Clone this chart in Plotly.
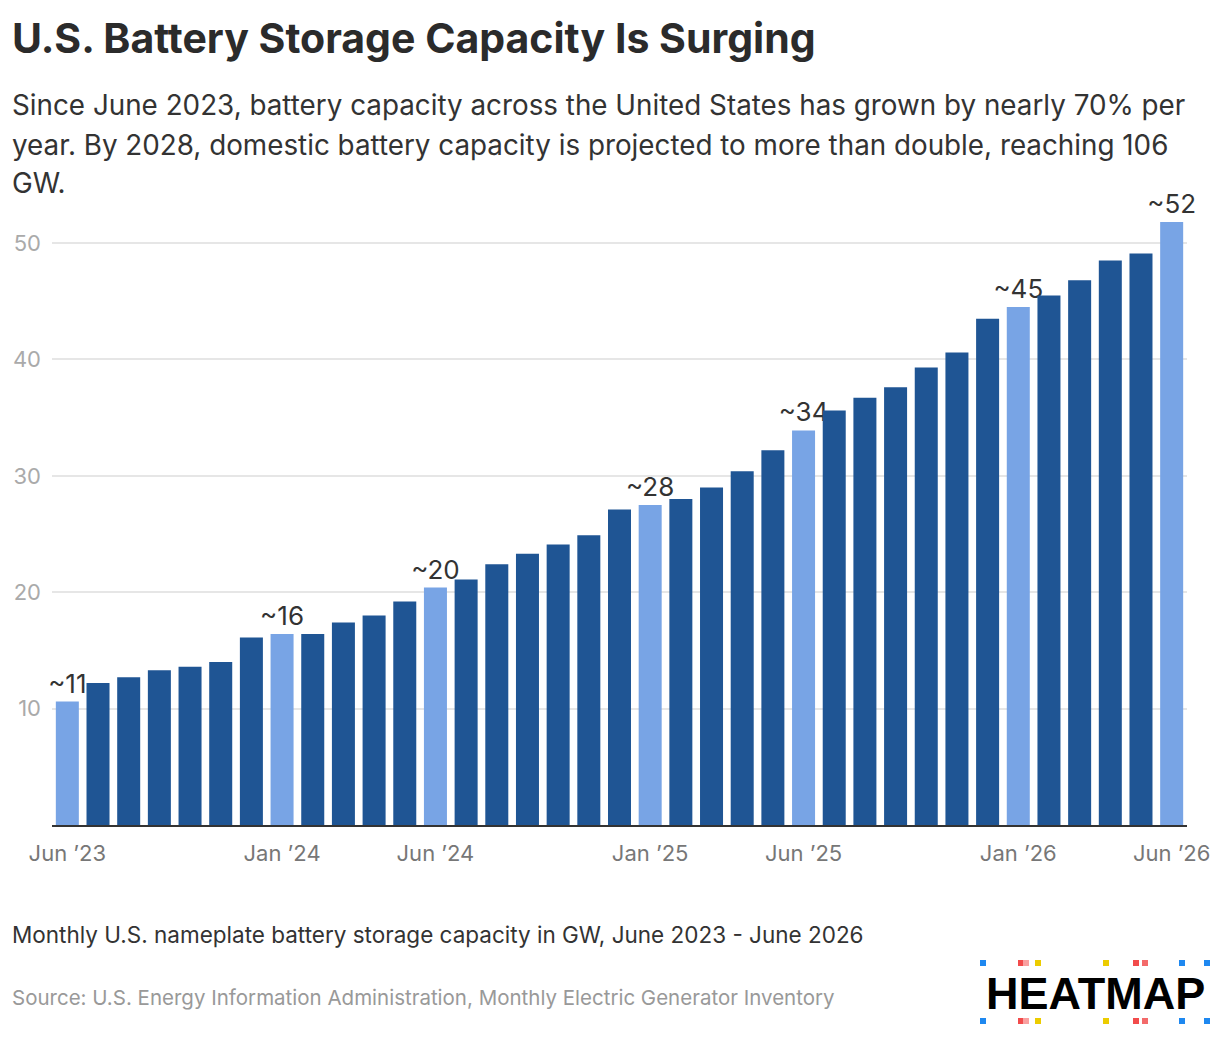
import pandas as pd
import plotly.graph_objects as go

# monthly capacity, GW
months = [d.strftime("%Y-%m") for d in pd.date_range("2023-06-01", "2026-06-01", freq="MS")]
capacity = [10.6, 12.2, 12.7, 13.3, 13.6, 14.0, 16.1, 16.4, 16.4, 17.4, 18.0, 19.2,
            20.4, 21.1, 22.4, 23.3, 24.1, 24.9, 27.1, 27.5, 28.0, 29.0, 30.4, 32.2,
            33.9, 35.6, 36.7, 37.6, 39.3, 40.6, 43.5, 44.5, 45.5, 46.8, 48.5, 49.1, 51.8]
callouts = {"2023-06": "~11", "2024-01": "~16", "2024-06": "~20", "2025-01": "~28",
            "2025-06": "~34", "2026-01": "~45", "2026-06": "~52"}
tick_months = ["2023-06", "2024-01", "2024-06", "2025-01", "2025-06", "2026-01", "2026-06"]
tick_text = ["Jun ’23", "Jan ’24", "Jun ’24", "Jan ’25", "Jun ’25", "Jan ’26", "Jun ’26"]
y_ticks = [10, 20, 30, 40, 50]

DARK = "#1f5594"
LIGHT = "#78a4e5"
FONT = "Inter"

# page offset (body margin) -> draw the figure a bit smaller
OFF = 8
W, H = 1220 - OFF, 1042 - OFF
# plot area in page pixels
X0, X1, Y0, Y1 = 52, 1187, 208, 825
L, R, T, B = X0 - OFF, W - (X1 - OFF), Y0 - OFF, H - (Y1 - OFF)
pw, ph = X1 - X0, Y1 - Y0


def px(x):
    return (x - X0) / pw


def py(y):
    return (Y1 - y) / ph


labels = [callouts.get(m, "") for m in months]
colors = [LIGHT if m in callouts else DARK for m in months]

fig = go.Figure()
fig.add_trace(go.Bar(
    x=months, y=capacity,
    marker_color=colors, marker_line_width=0,
    text=labels, textposition="outside", constraintext="none",
    textfont=dict(size=26, color="#333", family=FONT),
    cliponaxis=False, hoverinfo="x+y",
))

notes = [
    ("<b>U.S. Battery Storage Capacity Is Surging</b>", 10, 38, 41, "#2b2b2b"),
    ("Since June 2023, battery capacity across the United States has grown by nearly 70% per", 10, 105, 27.8, "#333"),
    ("year. By 2028, domestic battery capacity is projected to more than double, reaching 106", 10, 145, 27.8, "#333"),
    ("GW.", 10, 183, 27.8, "#333"),
    ("Monthly U.S. nameplate battery storage capacity in GW, June 2023 - June 2026", 10, 934, 22.5, "#333"),
    ("Source: U.S. Energy Information Administration, Monthly Electric Generator Inventory", 10, 997, 20.5, "#999"),
]
for txt, x, y, size, col in notes:
    fig.add_annotation(text=txt, xref="paper", yref="paper", x=px(x), y=py(y),
                       xanchor="left", yanchor="middle", showarrow=False,
                       font=dict(size=size, color=col, family=FONT))

# logo
fig.add_annotation(text="<b>HEATMAP</b>", xref="paper", yref="paper", x=px(1095), y=py(993),
                   xanchor="center", yanchor="middle", showarrow=False,
                   font=dict(size=45, color="#000", family="Liberation Sans"))
dots = [(983, "#1e88f0"), (1021, "#f24b4b"), (1026, "#f9a0a0"), (1038, "#eccc00"),
        (1106, "#eccc00"), (1136, "#f24b4b"), (1145, "#f36a6a"), (1182, "#1e88f0"), (1207, "#1e88f0")]
for dx, dc in dots:
    for dy in (963, 1021):
        fig.add_shape(type="rect", xref="paper", yref="paper",
                      x0=px(dx - 3), x1=px(dx + 3), y0=py(dy + 3), y1=py(dy - 3),
                      fillcolor=dc, line_width=0)

fig.update_layout(
    width=W, height=H,
    margin=dict(l=L, r=R, t=T, b=B),
    plot_bgcolor="white", paper_bgcolor="white",
    bargap=0.25, showlegend=False,
    font=dict(family=FONT),
    xaxis=dict(
        type="category", tickmode="array", tickvals=tick_months, ticktext=tick_text,
        showline=True, linecolor="#333", linewidth=2, showgrid=False, ticks="",
        ticklabelstandoff=8, automargin=False,
        tickfont=dict(size=22, color="#777"), range=[-0.5, len(months) - 0.5],
    ),
    yaxis=dict(
        range=[0, (Y1 - Y0) / 11.64], tickmode="array", tickvals=y_ticks,
        showgrid=True, gridcolor="#e6e6e6", gridwidth=1.5, zeroline=False,
        ticklabelstandoff=10, automargin=False,
        tickfont=dict(size=22, color="#aaa"), ticks="",
    ),
)

fig.write_html("out.html")
